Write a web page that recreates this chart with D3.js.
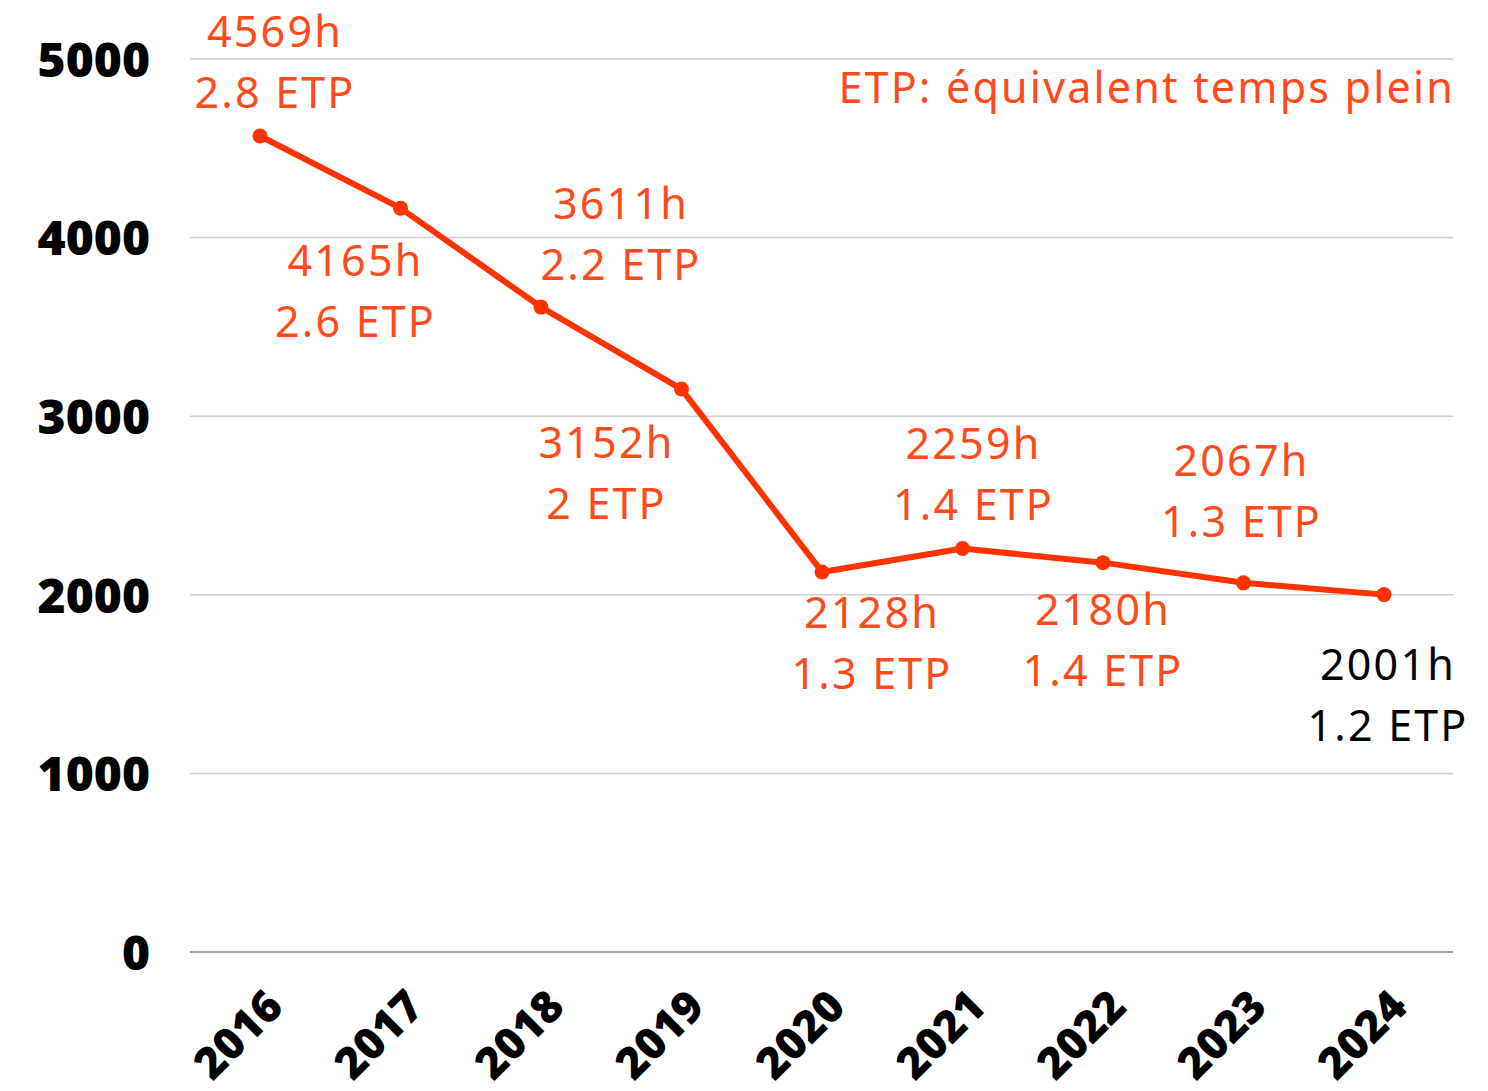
<!DOCTYPE html>
<html lang="fr">
<head>
<meta charset="UTF-8">
<script src="https://d3js.org/d3.v7.min.js"></script>
<style>
  body { margin: 0; background: #fff; }
  .lbl { font-family: "Noto Sans", sans-serif; font-size: 43px; letter-spacing: 2.2px; }
  .tick text { font-family: "Open Sans", sans-serif; font-weight: 800; fill: #000; }
</style>
</head>
<body>
<script>
  // data
  let years = ["2016", "2017", "2018", "2019", "2020", "2021", "2022", "2023", "2024"];
  let hours = [4569, 4165, 3611, 3152, 2128, 2259, 2180, 2067, 2001];
  let etp = ["2.8", "2.6", "2.2", "2", "1.3", "1.4", "1.4", "1.3", "1.2"];
  let yTicks = [0, 1000, 2000, 3000, 4000, 5000];

  // where each label pair sits relative to its point (dx, dy of first line)
  let labelOffsets = [[14, -89], [-46, 68], [79, -88], [-76, 69], [49, 56], [10, -90], [-1, 62], [-3, -107], [3, 85]];

  let width = 1488, height = 1091;
  let svg = d3.select("body").append("svg")
    .attr("width", width)
    .attr("height", height);

  let x = d3.scalePoint()
    .domain(years)
    .range([260, 1384]);

  let y = d3.scaleLinear()
    .domain([0, 5000])
    .range([952, 59]);

  // gridlines
  svg.selectAll(".grid")
    .data(yTicks)
    .enter().append("line")
    .attr("x1", 190)
    .attr("x2", 1453)
    .attr("y1", d => y(d))
    .attr("y2", d => y(d))
    .attr("stroke", d => d === 0 ? "#888" : "#cfcfcf")
    .attr("stroke-width", 1.5);

  // y axis labels
  let yAxis = svg.append("g")
    .attr("transform", "translate(160,0)")
    .call(d3.axisLeft(y).tickValues(yTicks).tickFormat(d3.format("d")).tickSize(0).tickPadding(10));
  yAxis.select(".domain").remove();
  yAxis.selectAll("text").attr("dy", "0.36em").style("font-size", "48px");

  // x axis labels
  let xAxis = svg.append("g")
    .attr("transform", "translate(0,952)")
    .call(d3.axisBottom(x).tickSize(0));
  xAxis.select(".domain").remove();
  xAxis.selectAll("text")
    .attr("text-anchor", "end")
    .attr("dy", 0)
    .attr("y", 0)
    .style("font-size", "44px")
    .attr("transform", "translate(25,57) rotate(-45)");

  let pts = years.map((yr, i) => ({ year: yr, h: hours[i], e: etp[i], off: labelOffsets[i], i: i }));

  let line = d3.line()
    .x(d => x(d.year))
    .y(d => y(d.h));

  svg.append("path")
    .datum(pts)
    .attr("d", line)
    .attr("fill", "none")
    .attr("stroke", "#ff3300")
    .attr("stroke-width", 6)
    .attr("stroke-linejoin", "round");

  svg.selectAll(".dot")
    .data(pts)
    .enter().append("circle")
    .attr("cx", d => x(d.year))
    .attr("cy", d => y(d.h))
    .attr("r", 7.5)
    .attr("fill", "#ff3300");

  // value labels
  let lbl = svg.selectAll(".lblg")
    .data(pts)
    .enter().append("g")
    .attr("transform", d => "translate(" + (x(d.year) + d.off[0] + 1) + "," + (y(d.h) + d.off[1]) + ")");

  lbl.append("text")
    .attr("class", "lbl")
    .attr("text-anchor", "middle")
    .attr("fill", d => d.i === pts.length - 1 ? "#000" : "#ff4a1c")
    .text(d => d.h + "h");

  lbl.append("text")
    .attr("class", "lbl")
    .attr("text-anchor", "middle")
    .attr("y", 61)
    .attr("fill", d => d.i === pts.length - 1 ? "#000" : "#ff4a1c")
    .text(d => d.e + " ETP");

  svg.append("text")
    .attr("class", "lbl")
    .attr("x", 1455)
    .attr("y", 103)
    .attr("text-anchor", "end")
    .attr("fill", "#ff4a1c")
    .text("ETP: équivalent temps plein");
</script>
</body>
</html>
